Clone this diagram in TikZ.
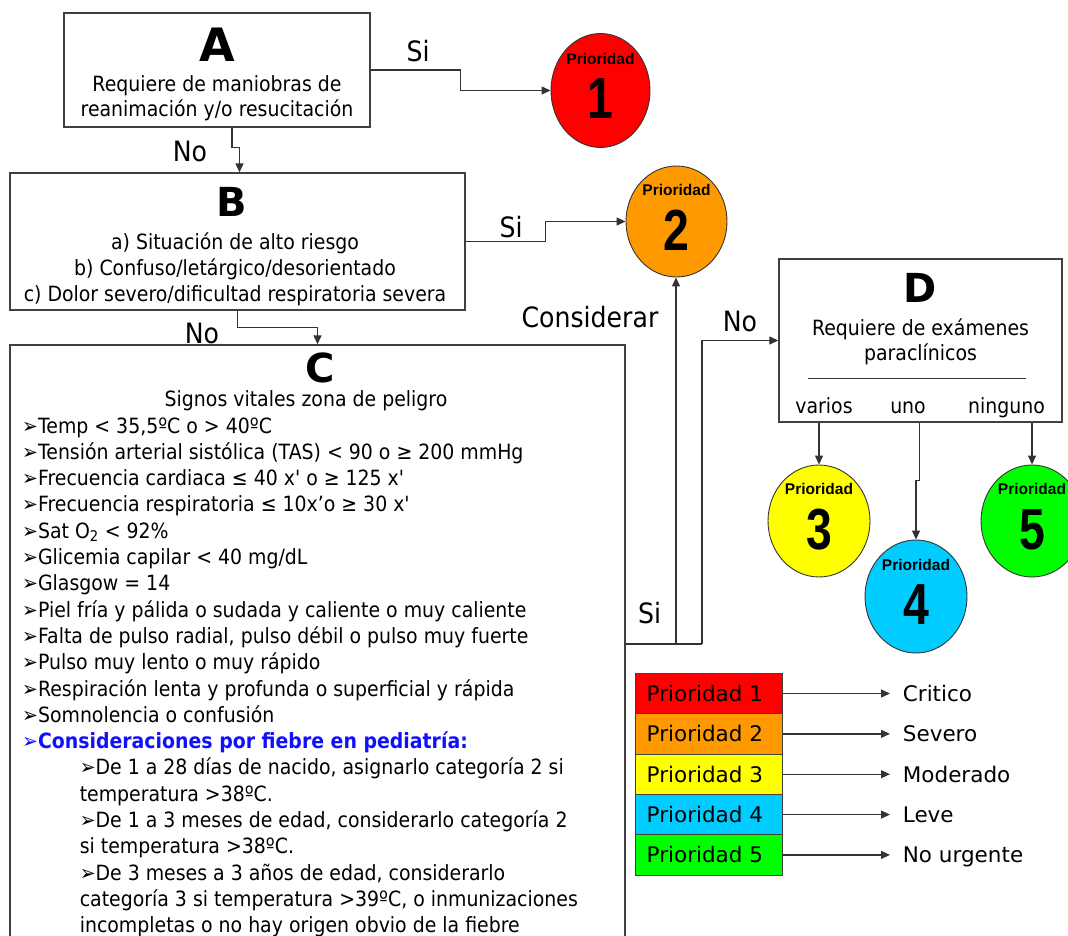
\documentclass[tikz,border=0pt]{standalone}
\usepackage{fontspec}
\setmainfont{DejaVu Sans}
\newfontfamily\bodyfont{DejaVu Sans}[FakeStretch=0.9]
\newfontfamily\letterfont{DejaVu Sans}
\newfontfamily\ptfont{Liberation Sans}
\newfontfamily\digitfont{Liberation Sans}[FakeStretch=0.8]
\usetikzlibrary{arrows.meta,shapes.geometric,calc}

\definecolor{lineclr}{HTML}{333333}
\definecolor{boxclr}{HTML}{404040}
\definecolor{p1clr}{HTML}{FF0000}
\definecolor{p2clr}{HTML}{FF9900}
\definecolor{p3clr}{HTML}{FFFF00}
\definecolor{p4clr}{HTML}{00CCFF}
\definecolor{p5clr}{HTML}{00FF00}
\definecolor{headblue}{HTML}{1010FF}

% arrowhead bullet used in the list of vital signs
\newcommand{\arrowbullet}{{\mdseries ➢}}

\begin{document}
\begin{tikzpicture}[x=1pt,y=-1pt,
  boxframe/.style={draw=boxclr, line width=1.4pt, rectangle, inner sep=0pt},
  link/.style={draw=lineclr, line width=1.3pt},
  linkarrow/.style={link, -{Triangle[length=9pt,width=8pt]}},
  prio/.style={ellipse, draw=lineclr, line width=0.9pt, inner sep=0pt},
  bigletter/.style={font=\letterfont\bfseries\fontsize{40}{40}\selectfont, inner sep=0pt, anchor=base},
  boxtext/.style={font=\bodyfont\fontsize{21}{25}\selectfont, inner sep=0pt, anchor=base},
  listrow/.style={font=\bodyfont\fontsize{21}{26}\selectfont, inner sep=0pt, anchor=base west},
  flowlabel/.style={font=\bodyfont\fontsize{28}{28}\selectfont, inner sep=0pt},
  ptitle/.style={font=\ptfont\bfseries\fontsize{15.5}{15.5}\selectfont, inner sep=0pt},
  pdigit/.style={font=\digitfont\bfseries\fontsize{58}{58}\selectfont, inner sep=0pt},
  legbox/.style={draw=boxclr, line width=1pt, minimum width=147pt, minimum height=40.35pt, inner sep=0pt},
  legtext/.style={font=\fontsize{21.5}{22}\selectfont, inner sep=0pt, anchor=base west},
]
\useasboundingbox (0,0) rectangle (1068,936);

% ---------- box A ----------
\node[boxframe, minimum width=306pt, minimum height=114pt] (A) at (217,70) {};
\node[bigletter, font=\letterfont\bfseries\fontsize{46}{46}\selectfont] (Aletter) at (217,62) {A};
\node[boxtext] (Aline1) at (217,92) {Requiere de maniobras de};
\node[boxtext] (Aline2) at (217,117) {reanimación y/o resucitación};

% ---------- box B ----------
\node[boxframe, minimum width=455pt, minimum height=137pt] (B) at (237.5,241.5) {};
\node[bigletter] (Bletter) at (232,217) {B};
\node[boxtext] (Bline1) at (235,250) {a) Situación de alto riesgo};
\node[boxtext] (Bline2) at (235,275.5) {b) Confuso/letárgico/desorientado};
\node[boxtext] (Bline3) at (235,301) {c) Dolor severo/dificultad respiratoria severa};

% ---------- box C ----------
\node[boxframe, minimum width=615pt, minimum height=605pt] (C) at (317.5,647.5) {};
\node[bigletter] (Cletter) at (320,382) {C};
\node[boxtext] (Csub) at (306,406) {Signos vitales zona de peligro};
\node[listrow] (c1)  at (22,433.0) {\arrowbullet Temp < 35,5ºC o > 40ºC};
\node[listrow] (c2)  at (22,459.3) {\arrowbullet Tensión arterial sistólica (TAS) < 90 o ≥ 200 mmHg};
\node[listrow] (c3)  at (22,485.6) {\arrowbullet Frecuencia cardiaca ≤ 40 x' o ≥ 125 x'};
\node[listrow] (c4)  at (22,511.9) {\arrowbullet Frecuencia respiratoria ≤ 10x’o ≥ 30 x'};
\node[listrow] (c5)  at (22,538.2) {\arrowbullet Sat O\textsubscript{2} < 92\%};
\node[listrow] (c6)  at (22,564.5) {\arrowbullet Glicemia capilar < 40 mg/dL};
\node[listrow] (c7)  at (22,590.8) {\arrowbullet Glasgow = 14};
\node[listrow] (c8)  at (22,617.1) {\arrowbullet Piel fría y pálida o sudada y caliente o muy caliente};
\node[listrow] (c9)  at (22,643.4) {\arrowbullet Falta de pulso radial, pulso débil o pulso muy fuerte};
\node[listrow] (c10) at (22,669.7) {\arrowbullet Pulso muy lento o muy rápido};
\node[listrow] (c11) at (22,696.0) {\arrowbullet Respiración lenta y profunda o superficial y rápida};
\node[listrow] (c12) at (22,722.3) {\arrowbullet Somnolencia o confusión};
\node[listrow, text=headblue] (c13) at (22,748.6) {\arrowbullet\bfseries Consideraciones por fiebre en pediatría:};
\node[listrow] (c14) at (79.6,774.9) {\arrowbullet De 1 a 28 días de nacido, asignarlo categoría 2 si};
\node[listrow] (c15) at (79.6,801.2) {temperatura >38ºC.};
\node[listrow] (c16) at (79.6,827.5) {\arrowbullet De 1 a 3 meses de edad, considerarlo categoría 2};
\node[listrow] (c17) at (79.6,853.8) {si temperatura >38ºC.};
\node[listrow] (c18) at (79.6,880.1) {\arrowbullet De 3 meses a 3 años de edad, considerarlo};
\node[listrow] (c19) at (79.6,906.4) {categoría 3 si temperatura >39ºC, o inmunizaciones};
\node[listrow] (c20) at (79.6,932.7) {incompletas o no hay origen obvio de la fiebre};

% ---------- box D ----------
\node[boxframe, minimum width=283pt, minimum height=163pt] (D) at (920.5,340.5) {};
\node[bigletter] (Dletter) at (920,302) {D};
\node[boxtext] (Dline1) at (920.5,335) {Requiere de exámenes};
\node[boxtext] (Dline2) at (920.5,360) {paraclínicos};
\coordinate (Drule1) at (808,378);
\coordinate (Drule2) at (1026,378);
\draw[draw=lineclr, line width=1pt] (Drule1) -- (Drule2);
\node[boxtext] (optA) at (824,413.3) {varios};
\node[boxtext] (optB) at (908,413.3) {uno};
\node[boxtext] (optC) at (1006.5,413.3) {ninguno};

% ---------- priority circles ----------
\node[prio, fill=p1clr, minimum width=99pt, minimum height=114pt] (p1) at (600.5,90.5) {};
\node[prio, fill=p2clr, minimum width=101pt, minimum height=111pt] (p2) at (676.5,221.5) {};
\node[prio, fill=p3clr, minimum width=102pt, minimum height=112pt] (p3) at (819,521) {};
\node[prio, fill=p4clr, minimum width=102pt, minimum height=113pt] (p4) at (916,596.5) {};
\node[prio, fill=p5clr, minimum width=102pt, minimum height=112pt] (p5) at (1032,521) {};
\foreach \k in {1,...,5}{
  \node[ptitle] (p\k title) at ($(p\k.center)+(0,-32)$) {Prioridad};
  \node[pdigit] (p\k digit) at ($(p\k.center)+(0,8.5)$) {\k};
}

% ---------- connectors ----------
\draw[linkarrow] (A.east) -- ++(90,0) |- (p1.west);
\draw[linkarrow] ([xshift=15pt]A.south) -- ++(0,20) -| ([xshift=2pt]B.north);
\draw[linkarrow] (B.east) -- ++(80,0) |- (p2.west);
\draw[linkarrow] (B.south) -- ++(0,17) -| (C.north);
\coordinate (split) at (676,644);
\coordinate (turn) at (702,644);
\draw[link] (split -| C.east) -- (turn);
\draw[linkarrow] (split) -- (split |- p2.south);
\draw[linkarrow] (turn) |- (D.west);
\draw[linkarrow] (D.south -| p3.north) -- (p3.north);
\draw[linkarrow] ([xshift=-1pt]D.south) -- ++(0,58) -| (p4.north);
\draw[linkarrow] (D.south -| p5.north) -- (p5.north);

% ---------- connector labels ----------
\node[flowlabel] (siA) at (418,51) {Si};
\node[flowlabel] (noA) at (190,151) {No};
\node[flowlabel] (siB) at (511,227) {Si};
\node[flowlabel] (noB) at (202,333) {No};
\node[flowlabel] (consider) at (590,317.5) {Considerar};
\node[flowlabel] (noC) at (740,321.7) {No};
\node[flowlabel] (siC) at (649.5,613) {Si};

% ---------- legend ----------
\foreach \i/\clr/\lvl in {1/p1clr/Critico,2/p2clr/Severo,3/p3clr/Moderado,4/p4clr/Leve,5/p5clr/No urgente}{
  \pgfmathsetmacro{\cy}{693.5+40.35*(\i-1)}
  \node[legbox, fill=\clr] (L\i) at (708.5,\cy) {};
  \node[legtext] (L\i txt) at (646.5,\cy+7.8) {Prioridad \i};
  \coordinate (L\i tip) at (890,\cy);
  \draw[linkarrow] (L\i.east) -- (L\i tip);
  \node[legtext] (L\i level) at (902.7,\cy+7.8) {\lvl};
}
\end{tikzpicture}
\end{document}
